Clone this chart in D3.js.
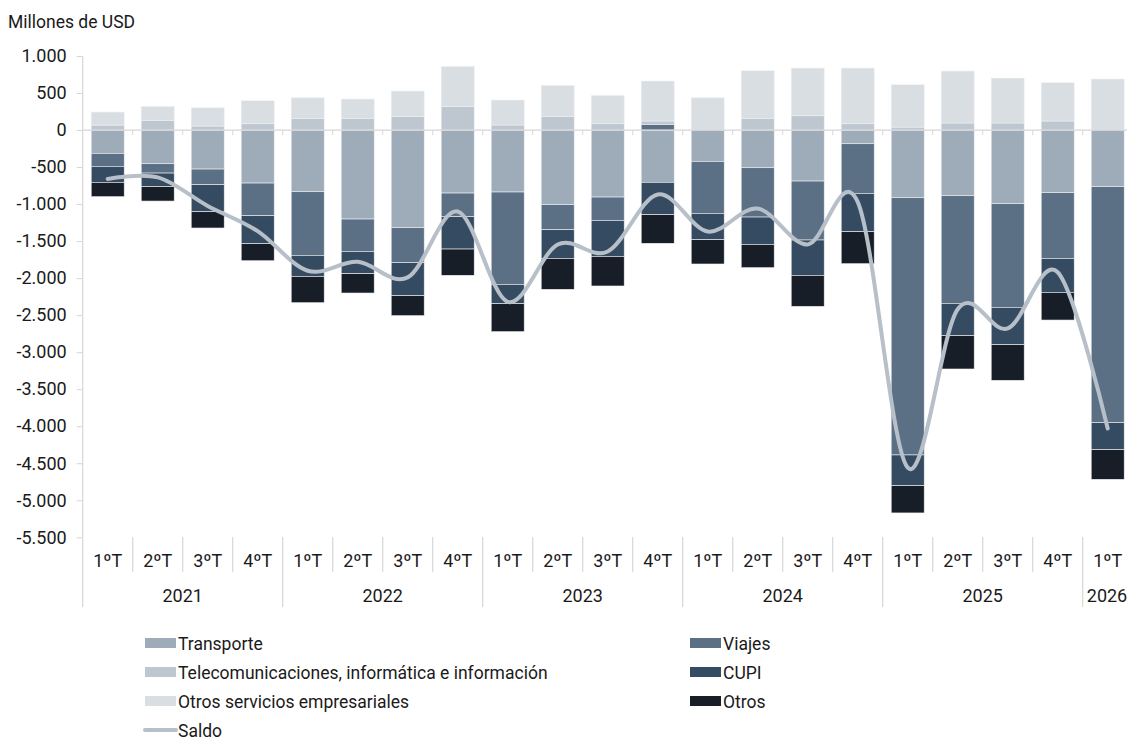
<!DOCTYPE html>
<html>
<head>
<meta charset="utf-8">
<script src="https://cdn.jsdelivr.net/npm/d3@7"></script>
<style>
  html, body { margin: 0; padding: 0; background: #fff; }
  svg { display: block; }
  text { font-family: "Liberation Sans Narrow", "Arial Narrow", "Roboto", sans-serif; fill: #1a1a1a; }
</style>
</head>
<body>
<svg id="chart" width="1127" height="740"></svg>
<script>
// ---- Data ----
const quarters = ["1ºT","2ºT","3ºT","4ºT","1ºT","2ºT","3ºT","4ºT","1ºT","2ºT","3ºT","4ºT","1ºT","2ºT","3ºT","4ºT","1ºT","2ºT","3ºT","4ºT","1ºT"];
const years = ["2021","2022","2023","2024","2025","2026"];
const yearSpans = [4, 4, 4, 4, 4, 1];
const transporte = [-315,-455,-527,-716,-833,-1202,-1319,-851,-837,-1008,-905,-706,-423,-509,-689,-185,-914,-887,-995,-846,-765];
const viajes     = [-175,-126,-211,-441,-859,-436,-472,-319,-1247,-338,-315,78,-702,-666,-796,-670,-3474,-1453,-1399,-887,-3187];
const telecom    = [67,126,54,85,153,153,185,315,68,180,85,44,0,153,193,85,40,95,95,122,0];
const cupi       = [-216,-184,-365,-378,-284,-302,-446,-437,-261,-387,-486,-437,-356,-369,-477,-518,-415,-437,-505,-459,-365];
const otrosServ  = [176,194,247,311,283,266,342,545,337,423,383,540,436,648,644,752,572,702,607,517,689];
const otros      = [-194,-194,-220,-230,-356,-261,-270,-355,-378,-418,-400,-387,-328,-315,-419,-432,-368,-450,-481,-374,-400];
const saldo      = [-660,-640,-1025,-1365,-1900,-1780,-1990,-1100,-2320,-1545,-1640,-870,-1370,-1060,-1545,-970,-4560,-2420,-2680,-1920,-4030];
const yTicks = [1000,500,0,-500,-1000,-1500,-2000,-2500,-3000,-3500,-4000,-4500,-5000,-5500];

const seriesKeys = ["Transporte","Viajes","Telecom","CUPI","OSE","Otros"];
const seriesData = {Transporte: transporte, Viajes: viajes, Telecom: telecom, CUPI: cupi, OSE: otrosServ, Otros: otros};
const colors = {Transporte:"#9eabb8", Viajes:"#5b6f85", Telecom:"#bec6cf", CUPI:"#354b61", OSE:"#d9dee3", Otros:"#171e28"};
const saldoColor = "#b7bfc8";

// ---- Layout ----
const svg = d3.select("#chart");
const left = 82.7, step = 50;
const x = d3.scaleBand().domain(d3.range(quarters.length))
  .range([left, left + step * quarters.length]).paddingInner(0.34).paddingOuter(0.17);
const y = d3.scaleLinear().domain([-5500, 1000]).range([537.3, 56]);

const table = quarters.map((q, i) => {
  const o = {i};
  seriesKeys.forEach(k => o[k] = seriesData[k][i]);
  return o;
});
const stacked = d3.stack().keys(seriesKeys).offset(d3.stackOffsetDiverging)(table);

const gridCol = "#d6d6d6";

// Title
svg.append("text").attr("x", 8).attr("y", 28).attr("font-size", 17.5).text("Millones de USD");

// Y axis
const yAxis = svg.append("g").attr("transform", `translate(${left},0)`)
  .call(d3.axisLeft(y).tickValues(yTicks).tickSize(6).tickPadding(10)
    .tickFormat(d => d3.format(",")(d).replace(/,/g, ".").replace("−", "-")));
yAxis.select(".domain").remove();
yAxis.selectAll("line").attr("stroke", gridCol);
yAxis.selectAll("text").attr("font-size", 18).attr("fill", "#1a1a1a")
  .style("font-family", '"Liberation Sans Narrow", "Arial Narrow", "Roboto", sans-serif');
svg.append("line").attr("x1", left).attr("x2", left).attr("y1", y(1000)).attr("y2", 607)
  .attr("stroke", gridCol).attr("stroke-width", 1.2);

// Bars
svg.append("g").selectAll("g").data(stacked).join("g")
  .attr("fill", d => colors[d.key])
  .selectAll("rect").data(d => d).join("rect")
  .attr("x", d => x(d.data.i))
  .attr("width", x.bandwidth())
  .attr("y", d => y(Math.max(d[0], d[1])))
  .attr("height", d => Math.abs(y(d[0]) - y(d[1])))
  .attr("stroke", "#eef0f2").attr("stroke-width", 0.6);

// Zero line with ticks
svg.append("line").attr("x1", left).attr("x2", 1127).attr("y1", y(0)).attr("y2", y(0))
  .attr("stroke", gridCol).attr("stroke-width", 1.2);
d3.range(1, quarters.length + 1).forEach(i => {
  const xx = left + step * i;
  svg.append("line").attr("x1", xx).attr("x2", xx).attr("y1", y(0)).attr("y2", y(0) + 5)
    .attr("stroke", gridCol);
});

// Category axis
const catG = svg.append("g");
let yearStarts = [0];
yearSpans.forEach((s, k) => yearStarts.push(yearStarts[k] + s));
d3.range(1, quarters.length + 1).forEach(i => {
  const xx = left + step * i;
  const isYear = yearStarts.includes(i);
  catG.append("line").attr("x1", xx).attr("x2", xx).attr("y1", 537).attr("y2", isYear ? 607 : 572)
    .attr("stroke", gridCol).attr("stroke-width", 1.2);
});
catG.selectAll("text.q").data(quarters).join("text").attr("class", "q")
  .attr("x", (d, i) => x(i) + x.bandwidth() / 2).attr("y", 566.5)
  .attr("text-anchor", "middle").attr("font-size", 18).text(d => d);
catG.selectAll("text.yr").data(years).join("text").attr("class", "yr")
  .attr("x", (d, k) => {
    const a = left + step * yearStarts[k], b = left + step * yearStarts[k + 1];
    return Math.min((a + b) / 2, 1107);
  })
  .attr("y", 602).attr("text-anchor", "middle").attr("font-size", 18).text(d => d);

// Saldo line
const line = d3.line()
  .x((d, i) => x(i) + x.bandwidth() / 2)
  .y(d => y(d))
  .curve(d3.curveCardinal.tension(0));
svg.append("path").datum(saldo).attr("d", line)
  .attr("fill", "none").attr("stroke", saldoColor).attr("stroke-width", 4)
  .attr("stroke-linecap", "round");

// Legend
const legendItems = [
  {label: "Transporte", key: "Transporte", col: 0, row: 0},
  {label: "Telecomunicaciones, informática e información", key: "Telecom", col: 0, row: 1},
  {label: "Otros servicios empresariales", key: "OSE", col: 0, row: 2},
  {label: "Saldo", key: "Saldo", col: 0, row: 3},
  {label: "Viajes", key: "Viajes", col: 1, row: 0},
  {label: "CUPI", key: "CUPI", col: 1, row: 1},
  {label: "Otros", key: "Otros", col: 1, row: 2}
];
const colX = [145, 690], rowY = [643, 672, 701, 730];
const lg = svg.append("g");
legendItems.forEach(it => {
  const lx = colX[it.col], ly = rowY[it.row];
  if (it.key === "Saldo") {
    lg.append("line").attr("x1", lx).attr("x2", lx + 31).attr("y1", ly).attr("y2", ly)
      .attr("stroke", saldoColor).attr("stroke-width", 4).attr("stroke-linecap", "round");
  } else {
    lg.append("rect").attr("x", lx).attr("y", ly - 5).attr("width", 31).attr("height", 10)
      .attr("fill", colors[it.key]);
  }
  lg.append("text").attr("x", lx + 33).attr("y", ly + 6.5).attr("font-size", 17.5).text(it.label);
});
</script>
</body>
</html>
